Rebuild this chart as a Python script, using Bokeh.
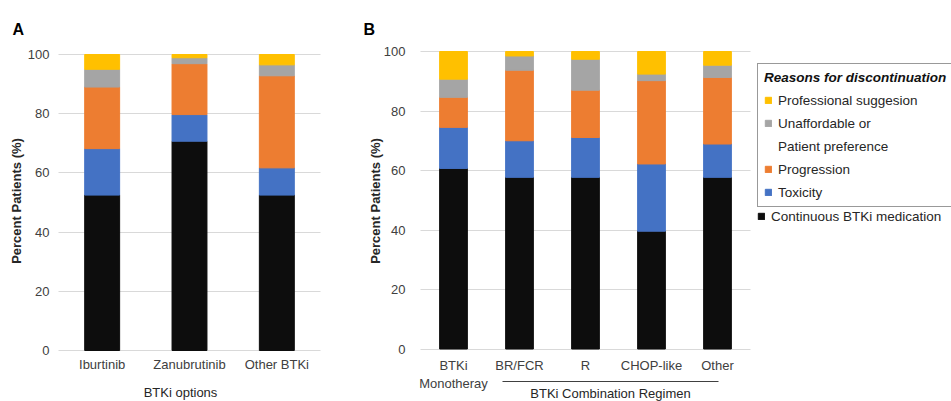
from bokeh.plotting import figure
from bokeh.models import (ColumnDataSource, Range1d, FixedTicker, LinearAxis,
                          Legend, LegendItem, Label)
from bokeh.layouts import row
from bokeh.embed import file_html
from bokeh.resources import INLINE

# ---- data: percent of patients per outcome ----
btki_options = ["Iburtinib", "Zanubrutinib", "Other BTKi"]
a_continuous = [52.5, 70.7, 52.5]
a_toxicity = [15.7, 9.0, 9.2]
a_progression = [20.8, 17.2, 31.1]
a_unaffordable = [6.0, 2.0, 3.7]
a_professional = [5.0, 1.1, 3.5]

regimens = ["BTKi\nMonotheray", "BR/FCR", "R", "CHOP-like", "Other"]
b_continuous = [60.7, 57.7, 57.7, 39.6, 57.7]
b_toxicity = [13.8, 12.3, 13.4, 22.6, 11.2]
b_progression = [10.1, 23.7, 15.9, 28.0, 22.4]
b_unaffordable = [6.1, 4.8, 10.4, 2.2, 4.1]
b_professional = [9.3, 1.5, 2.6, 7.6, 4.6]

y_ticks = [0, 20, 40, 60, 80, 100]

series_keys = ["continuous", "toxicity", "progression", "unaffordable", "professional"]
series_colors = ["#0d0d0d", "#4472c4", "#ed7d31", "#a5a5a5", "#ffc000"]

FONT = "Liberation Sans"
TEXT = "#404040"
H = 401


def make_panel(width, categories, cols, box, bar_width, x_title, letter, letter_x):
    """Stacked-bar panel whose frame fills the whole canvas; the plotting box
    (left, right, top, bottom in pixels) holds categories -0.5 .. n-0.5 and 0..100 %."""
    left, right, top, bottom = box
    n = len(categories)
    ux = (right - left) / n
    uy = (bottom - top) / 100.0
    xr = Range1d(-0.5 - left / ux, n - 0.5 + (width - right) / ux)
    yr = Range1d(-(H - bottom) / uy, 100 + top / uy)
    p = figure(x_range=xr, y_range=yr, width=width, height=H, min_border=0,
               output_backend="svg", toolbar_location=None)
    p.outline_line_color = None
    p.background_fill_color = "white"
    p.border_fill_color = "white"

    xs = list(range(n))
    src = ColumnDataSource(dict(x=xs, **cols))
    rends = p.vbar_stack(series_keys, x="x", width=bar_width, color=series_colors, source=src)

    p.xgrid.grid_line_color = None
    p.ygrid.ticker = FixedTicker(ticks=y_ticks)
    p.ygrid.grid_line_color = "#d9d9d9"
    p.ygrid.cross_bounds = (-0.5, n - 0.5)
    p.ygrid.level = "underlay"

    yax = p.yaxis[0]
    yax.ticker = FixedTicker(ticks=y_ticks)
    yax.fixed_location = -0.5
    yax.axis_label = "Percent Patients (%)"
    yax.axis_label_text_font_style = "bold"
    yax.axis_label_text_font_size = "13px"

    xax = p.xaxis[0]
    xax.ticker = FixedTicker(ticks=xs)
    xax.major_label_overrides = {i: c for i, c in enumerate(categories)}
    xax.fixed_location = 0
    if x_title:
        xax.axis_label = x_title
        xax.axis_label_text_font_style = "normal"
        xax.axis_label_text_font_size = "13px"

    for ax in (xax, yax):
        ax.axis_line_color = None
        ax.major_tick_line_color = None
        ax.minor_tick_line_color = None
        ax.major_tick_out = 0
        ax.major_label_text_font = FONT
        ax.major_label_text_font_size = "13px"
        ax.major_label_text_color = TEXT
        ax.axis_label_text_font = FONT
        ax.axis_label_text_color = "#262626"

    # panel letter, baseline 29 px below the top edge
    p.add_layout(Label(x=letter_x, y=H - 29, x_units="screen", y_units="screen", text=letter,
                       text_font=FONT, text_font_style="bold", text_font_size="16px",
                       text_color="black", text_baseline="alphabetic"))
    return p, rends, xax, yax, uy


# ---- panel A ----
cols_a = dict(continuous=a_continuous, toxicity=a_toxicity, progression=a_progression,
              unaffordable=a_unaffordable, professional=a_professional)
pa, _, xa, ya, _ = make_panel(360, btki_options, cols_a, (58, 320, 54, 350), 0.4,
                              "BTKi options", "A", 12)
xa.major_label_standoff = 6
xa.axis_label_standoff = 10
ya.major_label_standoff = 9
ya.axis_label_standoff = 1

# ---- panel B ----
cols_b = dict(continuous=b_continuous, toxicity=b_toxicity, progression=b_progression,
              unaffordable=b_unaffordable, professional=b_professional)
box_b = (60, 390, 51, 348.5)
pb, rb, xb, yb, uyb = make_panel(591, regimens, cols_b, box_b, 0.42, None, "B", 3)
xb.major_label_standoff = 9
yb.major_label_standoff = 15
yb.axis_label_standoff = -2

# bracket grouping the combination regimens
group_axis = LinearAxis(fixed_location=(box_b[3] - 381) / uyb, bounds=(0.74, 4.02),
                        ticker=FixedTicker(ticks=[]), major_tick_out=0, major_tick_in=0,
                        minor_tick_line_color=None, major_tick_line_color=None,
                        axis_line_color="#404040", axis_line_width=1.2,
                        axis_label="BTKi Combination Regimen", axis_label_standoff=4,
                        axis_label_text_font=FONT, axis_label_text_font_size="13px",
                        axis_label_text_font_style="normal", axis_label_text_color="#262626")
pb.add_layout(group_axis, "below")

# legend
blank = pb.scatter(x=[], y=[], alpha=0)
legend_main = Legend(
    items=[LegendItem(label="Professional suggesion", renderers=[rb[4]]),
           LegendItem(label="Unaffordable or", renderers=[rb[3]]),
           LegendItem(label="Patient preference", renderers=[blank]),
           LegendItem(label="Progression", renderers=[rb[2]]),
           LegendItem(label="Toxicity", renderers=[rb[1]])],
    location=(397, 194), title="Reasons for discontinuation",
    title_text_font=FONT, title_text_font_style="bold italic", title_text_font_size="13.5px",
    title_text_color="#111111", title_standoff=7,
    label_text_font=FONT, label_text_font_size="13.5px", label_text_color="#262626",
    glyph_width=8, glyph_height=8, label_height=16, spacing=7, padding=6,
    label_standoff=6, border_line_color="#333333", border_line_width=1.5,
    background_fill_color="white", background_fill_alpha=1.0)
legend_cont = Legend(
    items=[LegendItem(label="Continuous BTKi medication", renderers=[rb[0]])],
    location=(397, 177),
    label_text_font=FONT, label_text_font_size="13.5px", label_text_color="#262626",
    glyph_width=8, glyph_height=8, label_height=16, padding=6, label_standoff=6,
    border_line_color=None, background_fill_alpha=0)
pb.add_layout(legend_main)
pb.add_layout(legend_cont)

layout = row(pa, pb)
open("out.html", "w").write(file_html(layout, INLINE))
